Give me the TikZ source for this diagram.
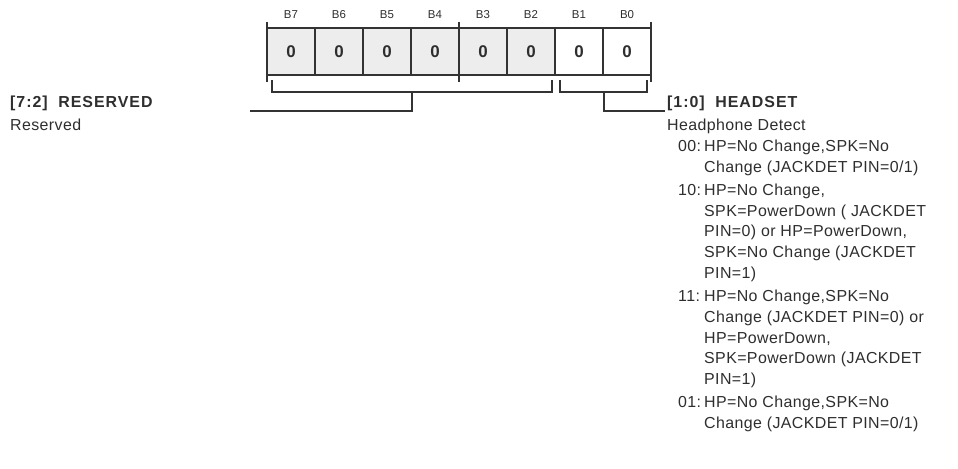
\documentclass[tikz,border=0pt]{standalone}
\usepackage{fontspec}
\setmainfont{Liberation Sans}
\newfontfamily\bodyfont[LetterSpace=2.5]{Liberation Sans}
\newfontfamily\headfont[LetterSpace=6]{Liberation Sans}
\definecolor{inkc}{HTML}{333333}
\definecolor{textc}{HTML}{2E2E2E}
\definecolor{cellfill}{HTML}{EDEDED}
\begin{document}
\begin{tikzpicture}[x=1bp,y=-1bp,
  ink/.style={draw=inkc, line width=1.2bp},
  cell/.style={draw=inkc, line width=1.2bp, minimum width=48bp, minimum height=47bp,
    inner sep=0pt, outer sep=0pt, text=textc,
    font=\fontsize{17}{17}\selectfont\bfseries},
  graycell/.style={cell, fill=cellfill},
  whitecell/.style={cell, fill=white},
  bitlabel/.style={text=textc, inner sep=0pt, font=\fontsize{11.5}{11.5}\selectfont},
  title/.style={text=textc, inner sep=0pt, anchor=base west, font=\fontsize{16}{16}\headfont\bfseries},
  body/.style={text=textc, inner sep=0pt, anchor=base west, font=\fontsize{16}{16}\bodyfont},
  listtext/.style={text=textc, inner sep=0pt, anchor=north west, align=left,
    font=\fontsize{16}{21}\bodyfont}
]
\useasboundingbox (0,0) rectangle (958,469);

% cells
\node[graycell] (c7) at (291,51.5) {0};
\node[graycell] (c6) at (339,51.5) {0};
\node[graycell] (c5) at (387,51.5) {0};
\node[graycell] (c4) at (435,51.5) {0};
\node[graycell] (c3) at (483,51.5) {0};
\node[graycell] (c2) at (531,51.5) {0};
\node[whitecell] (c1) at (579,51.5) {0};
\node[whitecell] (c0) at (627,51.5) {0};

% bit labels
\foreach \n/\x in {7/291,6/339,5/387,4/435,3/483,2/531,1/579,0/627}
  \node[bitlabel] (b\n) at (\x,15) {B\n};

% group ticks
\draw[ink] ([yshift=6bp]c7.north west) -- ([yshift=-7bp]c7.south west);
\draw[ink] ([yshift=6bp]c4.north east) -- ([yshift=-7bp]c4.south east);
\draw[ink] ([yshift=6bp]c0.north east) -- ([yshift=-7bp]c0.south east);

% brackets
\coordinate (ra) at (272,80);
\coordinate (rb) at (552,80);
\coordinate (rs) at (412,92);
\coordinate (re) at (250,111);
\draw[ink] (ra) |- (rb |- rs) -- (rb);
\draw[ink] (rs) |- (re);

\coordinate (ha) at (560,80);
\coordinate (hb) at (647,80);
\coordinate (hs) at (604,92);
\coordinate (he) at (665,111);
\draw[ink] (ha) |- (hb |- hs) -- (hb);
\draw[ink] (hs) |- (he);

% left text
\node[title] (rtitle) at (10,108) {[7:2]\ \ RESERVED};
\node[body] (rbody) at (10,131) {Reserved};

% right text
\node[title] (htitle) at (667,108) {[1:0]\ \ HEADSET};
\node[body] (hbody) at (667,131) {Headphone Detect};

\node[listtext] (hlist) at (678,140) {%
\makebox[26bp][l]{00:}HP=No Change,SPK=No\\
\hspace*{26bp}Change (JACKDET PIN=0/1)\\[1.5bp]
\makebox[26bp][l]{10:}HP=No Change,\\
\hspace*{26bp}SPK=PowerDown ( JACKDET\\
\hspace*{26bp}PIN=0) or HP=PowerDown,\\
\hspace*{26bp}SPK=No Change (JACKDET\\
\hspace*{26bp}PIN=1)\\[1.5bp]
\makebox[26bp][l]{11:}HP=No Change,SPK=No\\
\hspace*{26bp}Change (JACKDET PIN=0) or\\
\hspace*{26bp}HP=PowerDown,\\
\hspace*{26bp}SPK=PowerDown (JACKDET\\
\hspace*{26bp}PIN=1)\\[1.5bp]
\makebox[26bp][l]{01:}HP=No Change,SPK=No\\
\hspace*{26bp}Change (JACKDET PIN=0/1)};
\end{tikzpicture}
\end{document}
